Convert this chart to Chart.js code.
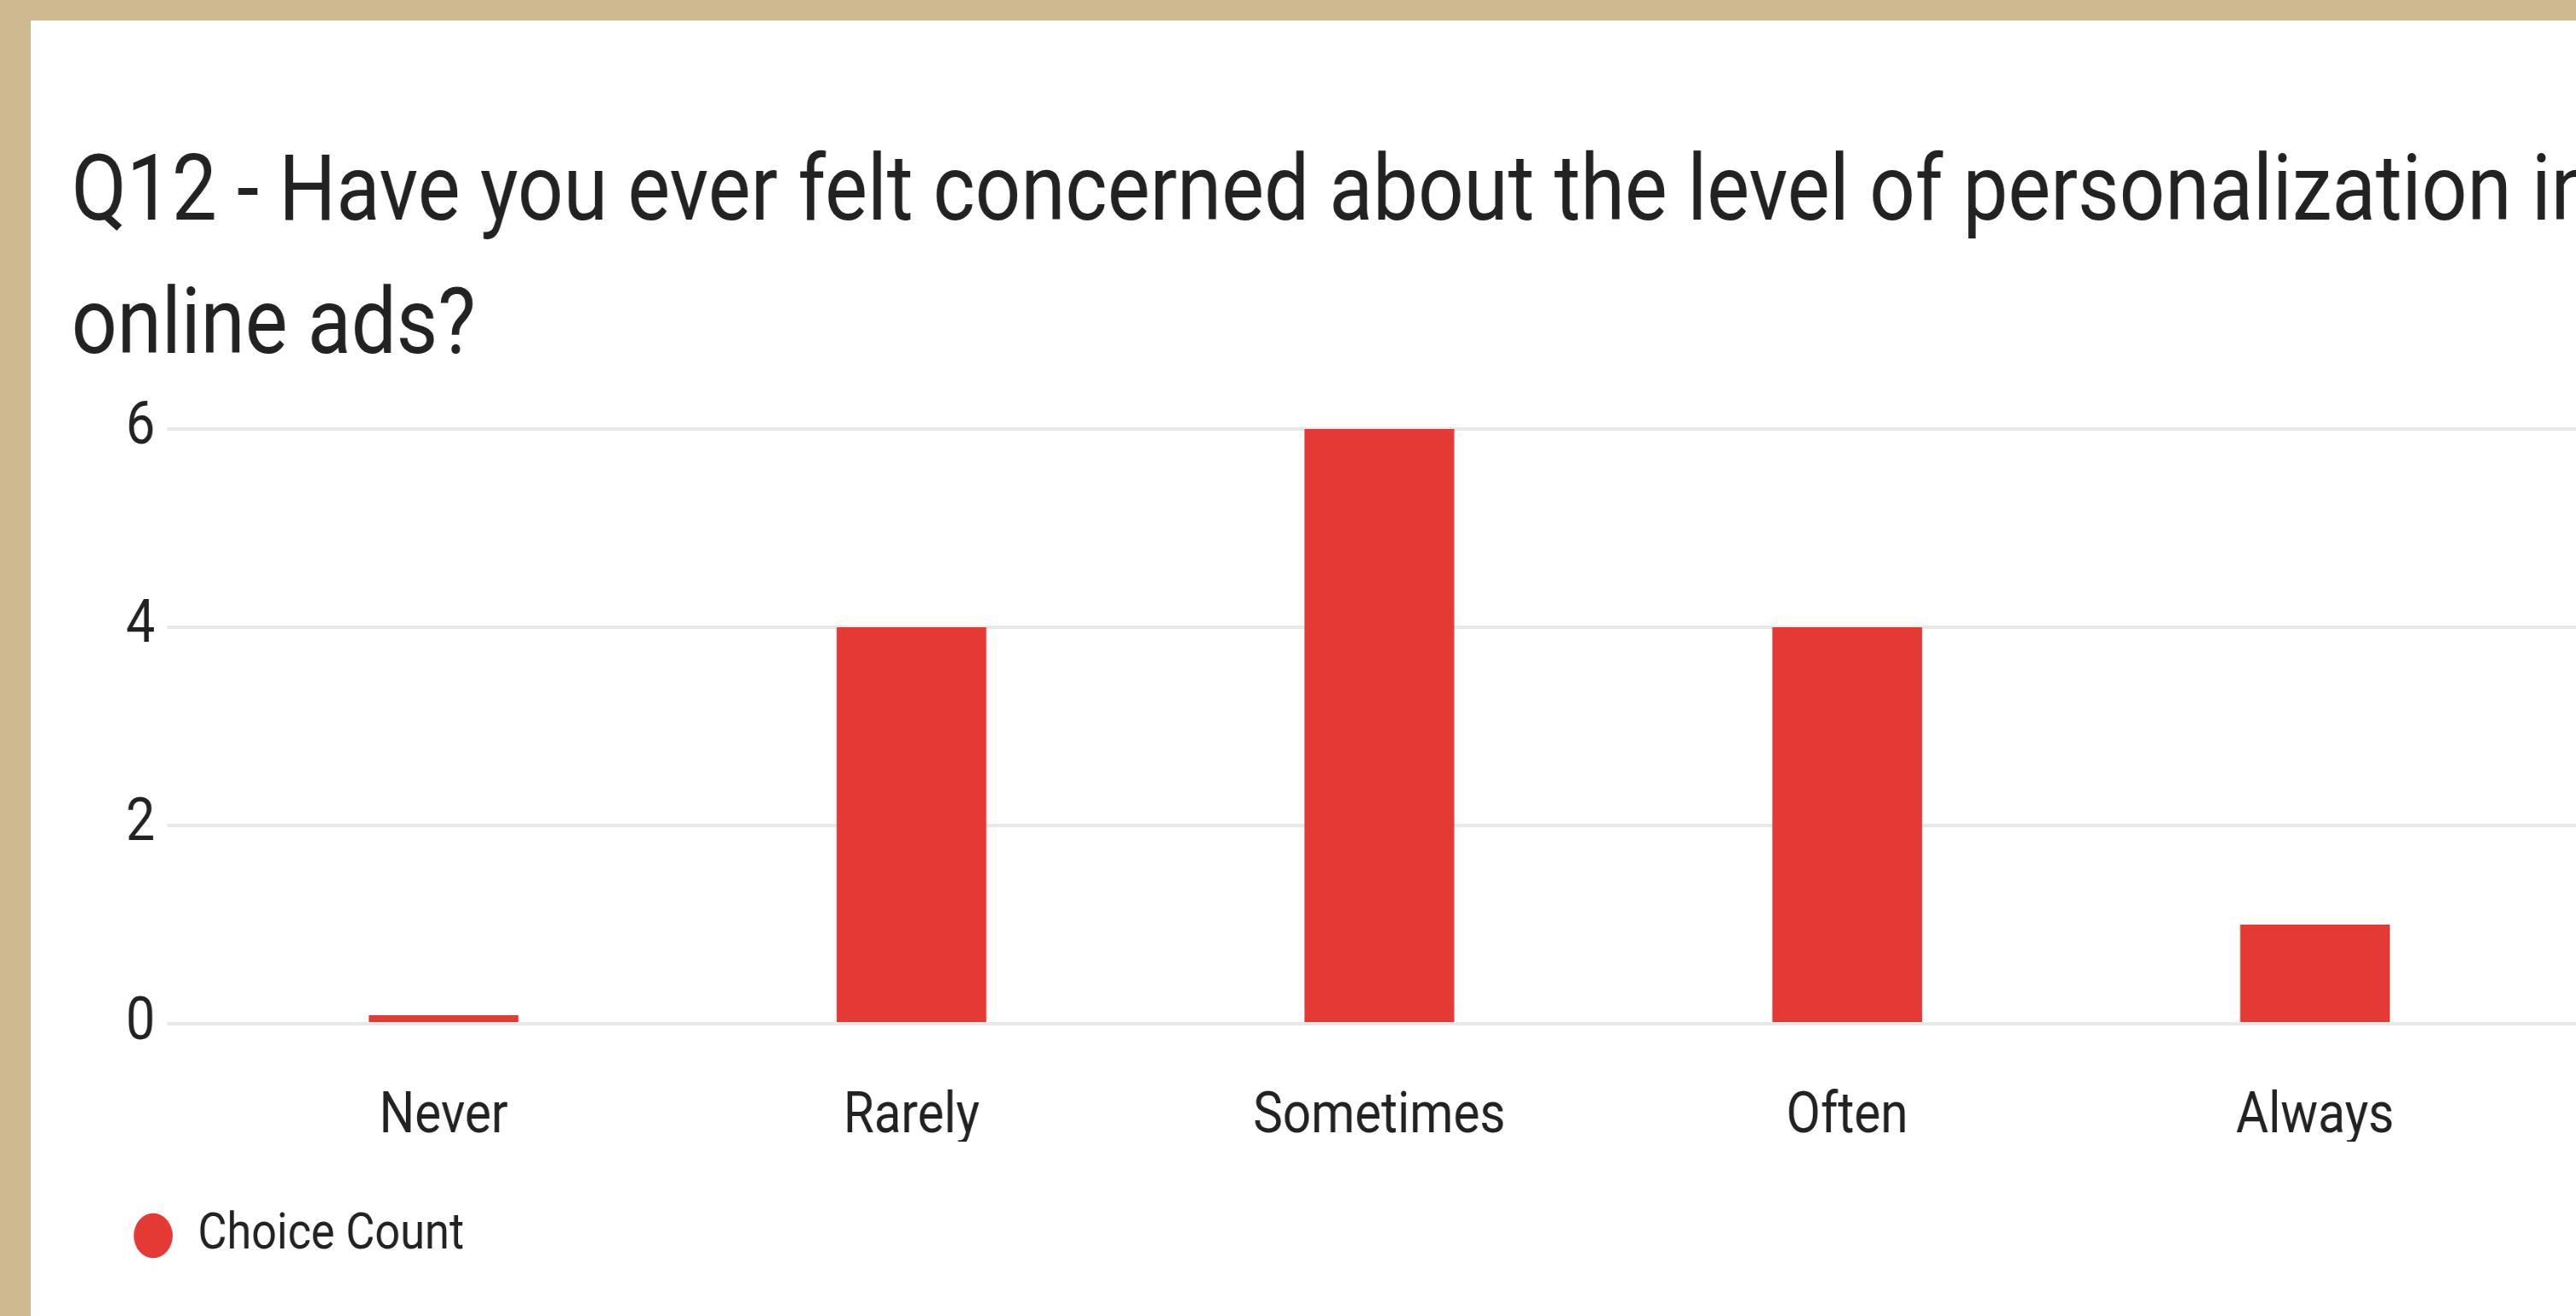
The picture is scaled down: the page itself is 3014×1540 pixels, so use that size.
<!DOCTYPE html>
<html>
<head>
<meta charset="utf-8">
<script src="https://cdn.jsdelivr.net/npm/chart.js@4.4.1/dist/chart.umd.min.js"></script>
<style>
  html, body { margin: 0; padding: 0; width: 3014px; height: 1540px; overflow: hidden; background: #CFB991; }
  #panel { position: absolute; left: 36px; top: 24px; right: 0; bottom: 0; background: #ffffff; }
  #wrap { position: absolute; left: 0; top: 0; width: 3700px; height: 1540px; transform: scaleX(0.87); transform-origin: 0 0; }
</style>
</head>
<body>
<div id="panel"></div>
<div id="wrap"><canvas id="c"></canvas></div>
<script>
const titleLines = ['Q12 - Have you ever felt concerned about the level of personalization in', 'online ads?'];
const categories = ['Never', 'Rarely', 'Sometimes', 'Often', 'Always'];
const choiceCount = [0, 4, 6, 4, 1];
const yTicks = [0, 2, 4, 6];
const seriesName = 'Choice Count';

const TEXT = '#222222';
const GRID = '#e8e8e8';
const BAR = '#E53935';

function setTicks(scale) {
  scale.ticks = yTicks.map(v => ({ value: v }));
}

function build() {
  Chart.defaults.font.family = 'Roboto';
  new Chart(document.getElementById('c'), {
    type: 'bar',
    data: {
      labels: categories,
      datasets: [{
        label: seriesName,
        data: choiceCount,
        backgroundColor: BAR,
        borderWidth: 0,
        barPercentage: 0.4,
        categoryPercentage: 0.8,
        minBarLength: 10
      }]
    },
    options: {
      responsive: true,
      maintainAspectRatio: false,
      animation: false,
      layout: { padding: { left: 96, top: 0, right: 0, bottom: 54 } },
      plugins: {
        tooltip: { enabled: false },
        title: {
          display: true,
          text: titleLines,
          align: 'start',
          color: TEXT,
          font: { family: 'Roboto', size: 108, weight: 'normal', lineHeight: 1.444 },
          padding: { top: 152, bottom: 38 }
        },
        legend: {
          display: true,
          position: 'bottom',
          align: 'start',
          labels: {
            usePointStyle: true,
            pointStyle: 'circle',
            boxWidth: 60,
            boxHeight: 37,
            padding: 80,
            color: TEXT,
            font: { family: 'Roboto', size: 60 }
          }
        }
      },
      scales: {
        x: {
          grid: { display: false },
          border: { display: false },
          ticks: { color: TEXT, font: { family: 'Roboto', size: 67 }, padding: 62 },
          afterFit: s => { s.height = 138; }
        },
        y: {
          position: 'left',
          min: 0,
          max: 6,
          grid: { color: GRID, lineWidth: 4, drawTicks: true, tickLength: 57.5 },
          border: { display: false },
          ticks: { color: TEXT, font: { family: 'Roboto', size: 70 }, padding: 16 },
          afterBuildTicks: setTicks,
          afterFit: s => { s.width = 186; }
        },
        y2: {
          position: 'right',
          min: 0,
          max: 6,
          grid: { color: GRID, lineWidth: 4, drawOnChartArea: false, drawTicks: true, tickLength: 272 },
          border: { display: false },
          ticks: { display: false },
          afterBuildTicks: setTicks
        }
      }
    }
  });
}

if (document.fonts && document.fonts.load) {
  Promise.all([
    document.fonts.load('108px Roboto'),
    document.fonts.load('70px Roboto')
  ]).then(build, build);
} else {
  build();
}
</script>
</body>
</html>
